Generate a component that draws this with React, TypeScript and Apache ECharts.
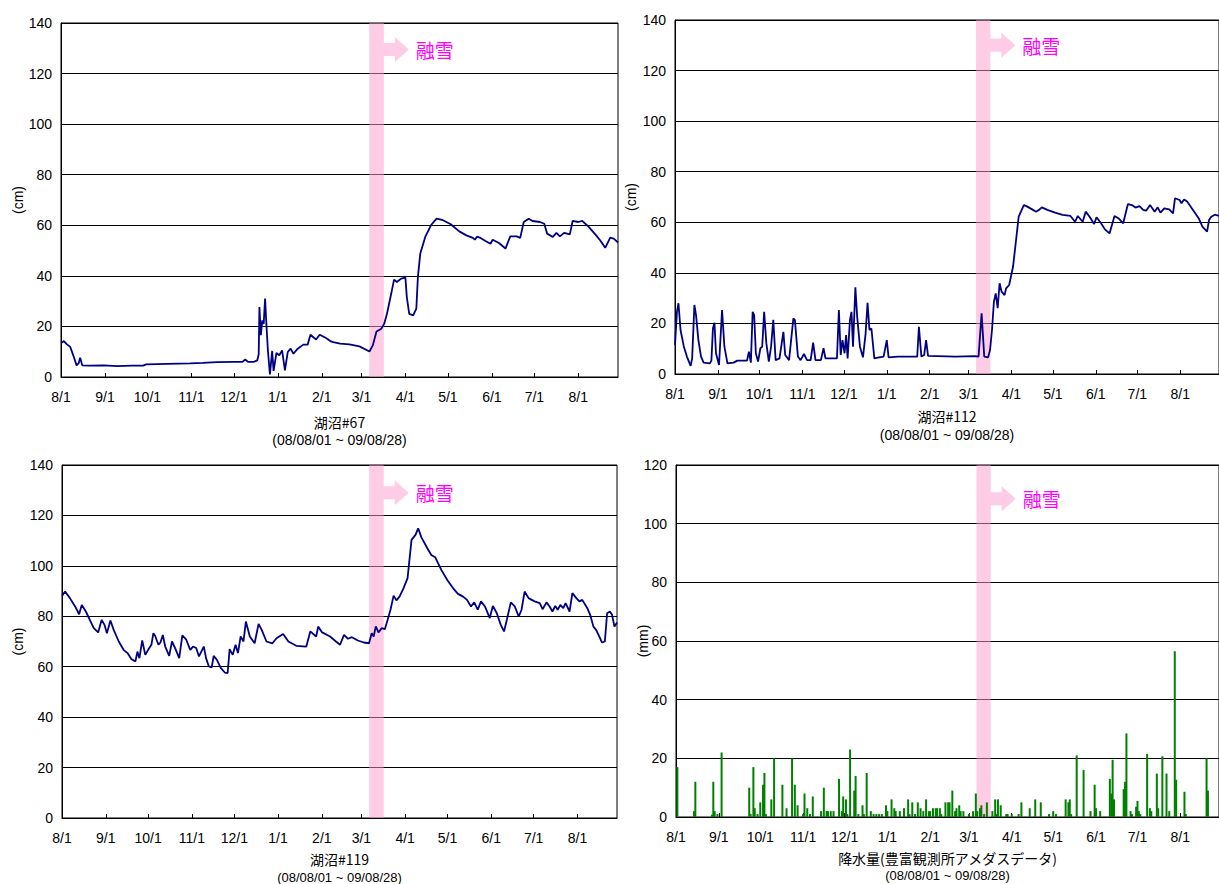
import React, { useEffect, useRef } from 'react';
import * as echarts from 'echarts';

// Days counted from 2008-08-01; month starts for axis ticks and labels
const monthStartDays = [0, 31, 61, 92, 122, 153, 184, 212, 243, 273, 304, 334, 365];
const monthLabels = ['8/1', '9/1', '10/1', '11/1', '12/1', '1/1', '2/1', '3/1', '4/1', '5/1', '6/1', '7/1', '8/1'];
const periodLabel = '(08/08/01 ~ 09/08/28)';
const lastDay = 393;

// Snowmelt period (day offsets)
const snowmeltStart = 217.5;
const snowmeltEnd = 227.8;
const snowmeltText = '融雪';

// Water level of lake #67 (cm): [day, level]
const lake67 = [
  [0, 13.4], [2, 14.2], [4, 13], [6.5, 11.9], [9, 8], [11, 4.6], [12.5, 5.5], [13.5, 7.6], [15, 4.6],
  [20, 4.5], [30, 4.6], [40, 4.3], [50, 4.5], [58, 4.5], [60, 5], [75, 5.2], [91, 5.4], [100, 5.6],
  [110, 5.9], [122, 6], [128, 6], [130, 6.9], [132, 6], [136, 6], [138.5, 6.6], [139.5, 9], [140, 27.7],
  [141, 16.5], [142, 22.4], [143, 21], [144, 31], [145, 20], [146, 10.5], [147.4, 1], [149, 10.3],
  [150, 2.4], [152, 9.5], [154, 8.6], [156, 10.5], [158, 2.6], [160, 9.9], [162, 11.2], [164, 9.2],
  [167, 11.2], [171, 12.8], [174, 12.8], [176, 16.7], [178.5, 15.5], [180, 14.8], [182.5, 16.7],
  [187, 15.4], [190, 14.2], [192, 13.8], [197, 13.2], [203.5, 12.9], [210.6, 12.1], [217.6, 10.1],
  [220, 12.5], [222.6, 18], [226, 19.1], [228, 21], [230, 25], [233, 33], [235, 38.5], [237, 37.6],
  [240, 38.9], [243, 39.3], [244, 31.6], [245.7, 25], [248.5, 24.4], [250.7, 27], [251.8, 39.5],
  [253.5, 48.8], [257, 55.4], [261, 60], [265, 62.6], [269.5, 62], [275, 60.4], [281, 57.6], [286, 56],
  [290.6, 55], [292, 54.3], [293.5, 55.5], [296, 55], [299.5, 53.8], [303, 52.7], [304.6, 54.3],
  [309, 53], [313.6, 50.8], [317, 55.6], [321.5, 55.6], [324, 55], [326.5, 61.3], [330, 62.6],
  [332.7, 61.7], [338, 61.3], [341, 60.6], [343, 56.7], [347, 55.4], [349.6, 57], [352, 55.6],
  [355, 57], [359, 56.4], [361, 61.7], [365, 61.3], [367.8, 61.7], [372, 59.6], [377.6, 56],
  [380.5, 54], [384, 51.1], [387.5, 55.1], [390, 54.7], [393, 53.2],
];

// Water level of lake #112 (cm)
const lake112 = [
  [0, 11.5], [1.4, 24.6], [2.5, 28], [4, 17.4], [6.4, 10.8], [8.6, 6.9], [11.3, 3.2], [12.4, 6.2],
  [14, 27.3], [15.2, 23.3], [16.9, 13.4], [18.8, 6.9], [20.7, 4.5], [25.2, 4.2], [26.3, 5.3], [27.4, 18],
  [28.5, 20.3], [29.6, 8.2], [31.8, 3.6], [34, 25.3], [35.7, 10.8], [37.9, 4.2], [42.3, 4.5], [45, 5.3],
  [52, 5.3], [53.4, 8.8], [54.8, 4.5], [56.1, 24.6], [57.2, 23.3], [58.4, 8.2], [60, 4.9], [61.7, 10.2],
  [63, 10.8], [64.4, 24.6], [66, 12.1], [67.8, 4.9], [69.4, 10.8], [71, 21.4], [72.7, 5.5], [75.5, 6.2],
  [78.3, 16.7], [79.6, 7.5], [82.4, 5.5], [85.5, 22], [86.6, 21.4], [88.8, 6.9], [90.7, 5.5], [93.2, 7.9],
  [95.4, 5.5], [98, 5.5], [99.8, 12.4], [101.5, 5.5], [105.4, 5.5], [107.3, 10.2], [108.7, 6.2],
  [117, 6.2], [118.4, 25.3], [119.7, 7.5], [121, 13.4], [122.5, 8.2], [123.6, 15.4], [124.7, 6.2],
  [126.4, 21.4], [127.5, 24.6], [128.6, 10.8], [130.3, 34.3], [131.6, 22.7], [133.6, 10.8], [135.8, 6.6],
  [137.7, 16], [139.1, 28.2], [140.5, 17.4], [141.9, 18], [144, 6.2], [147.4, 6.6], [150.7, 6.9],
  [153, 13.4], [154.3, 6.6], [161, 6.9], [175, 6.9], [176.2, 18.7], [178, 6.9], [180, 7.5], [181.4, 13.4],
  [182.8, 7.2], [202.7, 6.9], [216.5, 7.1], [219.3, 6.9], [221.5, 24], [223.4, 6.9], [226.2, 6.6],
  [227.6, 9.5], [229, 17.4], [230.4, 28.6], [231.7, 31.9], [233.1, 26], [234.5, 35.9], [235.9, 32.6],
  [238.1, 31.2], [239.2, 33.9], [241.4, 35.2], [244.2, 42.4], [246.4, 53], [248.3, 62.2], [252, 66.8],
  [253.9, 66.4], [258, 65.1], [260.8, 64.2], [263, 64.9], [265, 65.9], [269, 64.9], [274.6, 63.8],
  [280, 62.9], [285.7, 62.5], [289, 60.2], [291, 62.5], [294.5, 60.2], [296.7, 64.2], [299.5, 62.2],
  [302.8, 59.3], [304.5, 62], [307.8, 59.6], [310.6, 57.2], [313.9, 55.6], [317.5, 62.5], [320.3, 61.6],
  [323.8, 59.6], [327.2, 67.2], [330, 66.8], [332.7, 65.8], [335.5, 66.4], [338.2, 64.9], [340.4, 64.6],
  [343.2, 66.8], [346.5, 64.2], [348.7, 65.9], [350.7, 63.8], [353.5, 65.5], [357, 65.1], [359.8, 63.5],
  [361.2, 69.5], [364.5, 68.8], [365.9, 67.5], [367.8, 69], [370, 68.2], [374.2, 64.9], [378.3, 61.6],
  [381, 58.3], [384.4, 56.3], [385.8, 60.9], [387.4, 62.2], [390, 63], [393, 62.5],
];

// Water level of lake #119 (cm)
const lake119 = [
  [0, 88.1], [2.2, 89.8], [5.6, 87.2], [9.3, 83.9], [12.1, 80.8], [14, 84.5], [16.9, 81.9], [19.7, 78.6],
  [22.5, 75.3], [25.6, 73.6], [28.1, 78.6], [30.1, 76.6], [31.8, 73.3], [34.3, 78.3], [36.6, 74.6],
  [40.2, 70], [43.6, 66.7], [46.4, 65.4], [49.2, 63], [52, 62.1], [53.4, 66], [54.8, 63.4], [56.8, 70.4],
  [59, 64.7], [61, 66.7], [63.3, 68.7], [64.7, 73.3], [66, 72.2], [68.3, 68.7], [69.7, 69.6], [71.4, 72.6],
  [73.1, 68], [75.9, 64.3], [77.9, 70], [80.1, 67.4], [83, 63.4], [85.2, 72.4], [88, 70.7], [90.8, 66.7],
  [92.8, 68], [95, 67.4], [97, 64.1], [100.4, 68], [102, 63.4], [104, 60.1], [106, 59.7], [107.4, 64.3],
  [109.7, 62.7], [112.5, 59.4], [115.3, 57.7], [117.3, 57.5], [118.7, 67], [120.9, 64.7], [122.9, 68.7],
  [124.6, 65.4], [126.5, 72], [128.5, 70], [130.2, 77.9], [133, 72], [136.4, 69.3], [139.2, 77],
  [141.4, 74.6], [144.8, 70], [149, 69.3], [151.9, 71.3], [156.6, 73], [160.3, 70], [165.9, 68.3],
  [173, 68], [175.8, 74], [180, 72], [181.4, 75.9], [184.2, 73.6], [189.8, 72], [194, 70], [196.9, 68.7],
  [199.7, 72.6], [202.5, 71.1], [205.3, 71.7], [209.5, 70.4], [213.7, 69.6], [217.4, 69.3], [219.3, 73.3],
  [220.7, 72], [222.2, 76], [224.1, 73.6], [226.4, 75.3], [228.6, 74.9], [230.6, 78.6], [232.6, 82.6],
  [234.8, 88.2], [236.8, 86.3], [239, 87.8], [241.8, 91.1], [244.7, 95.1], [247.5, 110.3], [250.3, 112.3],
  [252.2, 114.9], [254.5, 111.3], [258.7, 107], [261.5, 104.3], [264.3, 103.4], [268.6, 98.4],
  [272.8, 94.4], [277, 91.1], [280.4, 88.9], [284, 87.8], [286.8, 86.5], [289.6, 83.9], [291.9, 85.5],
  [294.4, 82.6], [296.7, 85.9], [299.5, 83.9], [302.9, 79.3], [305.1, 84.1], [307.9, 81.2], [310.7, 76.6],
  [313, 74], [315, 78.6], [317.8, 85.5], [320.6, 83.9], [323.4, 79.9], [325.4, 82.6], [327.6, 89.8],
  [330.4, 87.2], [334.6, 85.9], [338.3, 85.2], [340.3, 82.8], [343.1, 85.5], [345.3, 83.9], [347.3, 81.9],
  [349.3, 84.1], [351, 82.6], [352.9, 84.5], [354.9, 83.2], [356.6, 85.2], [359.4, 81.9], [361.4, 89.2],
  [364.2, 87.2], [366.4, 85.9], [368.4, 86.5], [372, 83.2], [374, 80.6], [376.3, 75.9], [378.2, 74.6],
  [381, 71.3], [382.4, 69.6], [384.4, 70], [386, 81.2], [388, 81.9], [389.5, 80.6], [391.2, 75.9],
  [393, 77.5],
];

// Daily precipitation, Toyotomi AMeDAS station (mm)
const rainDays = [
  1, 13, 14, 26, 27, 28, 30, 33, 53, 54, 56, 57, 59, 61, 63, 64, 65, 69, 71, 77, 80, 84, 86, 88, 92, 93,
  95, 97, 99, 105, 107, 109, 110, 112, 114, 118, 120, 121, 123, 124, 126, 129, 130, 132, 135, 136, 138,
  141, 143, 145, 147, 149, 152, 153, 156, 158, 159, 162, 165, 168, 169, 171, 173, 175, 177, 179, 181,
  183, 184, 186, 188, 189, 191, 192, 195, 197, 198, 200, 202, 203, 205, 206, 208, 212, 215, 217, 218,
  220, 221, 223, 225, 229, 231, 232, 233, 235, 239, 240, 243, 248, 250, 256, 260, 264, 270, 273, 275,
  282, 284, 285, 286, 290, 295, 300, 303, 304, 307, 314, 315, 316, 317, 324, 325, 326, 329, 330, 333,
  334, 335, 336, 341, 343, 344, 348, 349, 352, 355, 357, 361, 362, 368, 369, 384, 385,
];
const rainMm = [
  17, 2, 12, 0.8, 12, 2, 1, 22, 10, 1, 17, 3, 1, 5, 11, 15, 1, 6, 20, 11, 3, 20, 11, 4, 1, 8,
  3, 1, 7, 2, 10, 2, 2, 2, 2, 13, 2, 7, 6, 1, 23, 9, 14, 1, 4, 1, 15,
  2, 1, 1, 1, 1, 4, 2, 6, 3, 2, 2, 3, 6, 1, 5, 1, 5, 3, 2, 6,
  2, 2, 3, 3, 3, 3, 1, 5, 5, 5, 9, 2, 3, 4, 2, 2, 1, 2, 8, 2,
  3, 4, 1, 5, 2, 6, 1, 6, 4, 1, 1, 1, 1, 5, 3, 6, 5, 1, 2, 1,
  6, 5, 6, 1, 21, 16, 2, 11, 3, 2, 13, 8, 19.5, 6, 9.5, 12, 28.5, 2, 1, 3.5,
  5.5, 2, 1, 21.5, 3, 2, 14.8, 3, 20.7, 14.8, 2, 56.5, 12.7, 8.6, 1, 20, 9,
];

const titles = ['湖沼#67', '湖沼#112', '湖沼#119', '降水量(豊富観測所アメダスデータ)'];
const units = ['(cm)', '(cm)', '(cm)', '(mm)'];
const axisMax = [140, 140, 140, 120];
const arrowLevel = [129.5, 130, 129, 108.5];

// Panel layout (pixels)
const panels = [
  { left: 61, top: 23, width: 557, height: 354, unitGap: 43, titleGap: 45, subGap: 63, subSize: 14 },
  { left: 675, top: 20, width: 552, height: 354, unitGap: 44, titleGap: 42, subGap: 61, subSize: 14 },
  { left: 62, top: 465, width: 555, height: 353, unitGap: 44, titleGap: 41, subGap: 59, subSize: 13 },
  { left: 676, top: 465, width: 552, height: 352, unitGap: 33, titleGap: 41, subGap: 58, subSize: 13 },
];

const numFont = "'Liberation Sans', Arial, sans-serif";
const cjkFont = "'Noto Sans CJK JP', 'Liberation Sans', sans-serif";
const lineColor = '#000080';
const rainColor = '#008000';
const bandColor = 'rgba(255, 153, 204, 0.5)';
const arrowColor = '#FFCCE5';
const meltTextColor = '#FF00FF';

export default function App() {
  const ref = useRef<HTMLDivElement>(null);

  useEffect(() => {
    if (!ref.current) return;
    const chart = echarts.init(ref.current, undefined, { renderer: 'svg' });

    const levelSeries = [lake67, lake112, lake119];
    const rainData = rainDays.map((d, i) => [d, rainMm[i]]);

    const series: any[] = [];
    levelSeries.forEach((data, i) => {
      series.push({
        type: 'line',
        xAxisIndex: i,
        yAxisIndex: i,
        data,
        showSymbol: false,
        symbol: 'none',
        lineStyle: { color: lineColor, width: 1.8 },
        z: 3,
      });
    });
    series.push({
      type: 'bar',
      xAxisIndex: 3,
      yAxisIndex: 3,
      data: rainData,
      barWidth: 2,
      itemStyle: { color: rainColor },
      z: 3,
    });
    // Snowmelt band drawn above the data
    panels.forEach((_, i) => {
      series.push({
        type: 'line',
        xAxisIndex: i,
        yAxisIndex: i,
        data: [],
        z: 10,
        silent: true,
        markArea: {
          silent: true,
          itemStyle: { color: bandColor },
          data: [[{ xAxis: snowmeltStart }, { xAxis: snowmeltEnd }]],
        },
      });
    });

    chart.setOption({
      animation: false,
      backgroundColor: '#fff',
      grid: panels.map((p) => ({
        left: p.left,
        top: p.top,
        width: p.width,
        height: p.height,
        show: true,
        borderColor: '#000',
        borderWidth: 1,
        backgroundColor: '#fff',
      })),
      xAxis: panels.map((_, i) => ({
        type: 'value',
        gridIndex: i,
        min: 0,
        max: lastDay,
        axisLine: { show: true, lineStyle: { color: '#000', width: 1 } },
        axisTick: {
          show: true,
          inside: true,
          length: 4,
          customValues: monthStartDays,
          lineStyle: { color: '#000' },
        },
        axisLabel: {
          customValues: monthStartDays,
          formatter: (v: number) => {
            const k = monthStartDays.indexOf(Math.round(v));
            return k >= 0 ? monthLabels[k] : '';
          },
          margin: 13,
          fontSize: 14,
          color: '#000',
          fontFamily: numFont,
        },
        splitLine: { show: false },
      })),
      yAxis: panels.map((_, i) => ({
        type: 'value',
        gridIndex: i,
        min: 0,
        max: axisMax[i],
        interval: 20,
        axisLine: { show: true, lineStyle: { color: '#000', width: 1 } },
        axisTick: { show: false },
        axisLabel: { margin: 9, fontSize: 14, color: '#000', fontFamily: numFont },
        splitLine: { show: true, lineStyle: { color: '#000', width: 1 } },
      })),
      series,
    });

    // Annotations placed from the axes' own coordinates
    const graphic: any[] = [];
    panels.forEach((p, i) => {
      const [bx, by] = chart.convertToPixel({ gridIndex: i }, [snowmeltEnd, arrowLevel[i]]) as number[];
      const [cx, y0] = chart.convertToPixel({ gridIndex: i }, [lastDay / 2, 0]) as number[];
      const midY = p.top + p.height / 2;
      graphic.push({
        type: 'polygon',
        z: 100,
        shape: {
          points: [
            [bx - 2, by - 6.5], [bx + 11, by - 6.5], [bx + 11, by - 12.5], [bx + 25, by],
            [bx + 11, by + 12.5], [bx + 11, by + 6.5], [bx - 2, by + 6.5],
          ],
        },
        style: { fill: arrowColor },
      });
      graphic.push({
        type: 'text',
        z: 100,
        x: bx + 32,
        y: by,
        style: {
          text: snowmeltText,
          fill: meltTextColor,
          fontSize: 19,
          fontFamily: cjkFont,
          align: 'left',
          verticalAlign: 'middle',
        },
      });
      graphic.push({
        type: 'text',
        z: 100,
        x: cx,
        y: y0 + p.titleGap,
        style: {
          text: titles[i],
          fill: '#000',
          fontSize: 14,
          fontFamily: cjkFont,
          align: 'center',
          verticalAlign: 'middle',
        },
      });
      graphic.push({
        type: 'text',
        z: 100,
        x: cx,
        y: y0 + p.subGap,
        style: {
          text: periodLabel,
          fill: '#000',
          fontSize: p.subSize,
          fontFamily: numFont,
          align: 'center',
          verticalAlign: 'middle',
        },
      });
      graphic.push({
        type: 'text',
        z: 100,
        x: p.left - p.unitGap,
        y: midY,
        rotation: Math.PI / 2,
        style: {
          text: units[i],
          fill: '#000',
          fontSize: 14,
          fontFamily: numFont,
          align: 'center',
          verticalAlign: 'middle',
        },
      });
    });
    chart.setOption({ graphic });

    return () => chart.dispose();
  }, []);

  return (
    <div
      ref={ref}
      style={{ position: 'absolute', left: 0, top: 0, width: 1219, height: 884, background: '#fff' }}
    />
  );
}
